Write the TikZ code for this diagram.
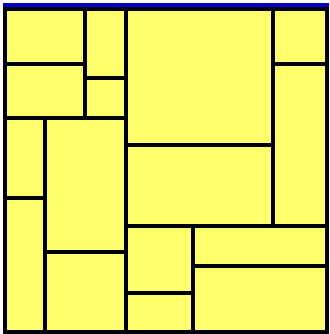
\documentclass[tikz,border=0pt]{standalone}
\usepackage{tikz}
\definecolor{cellyellow}{RGB}{255,255,110}
\definecolor{topblue}{RGB}{0,0,200}

\begin{document}
\begin{tikzpicture}[x=1pt,y=-1pt,
    cell/.style={draw=black,fill=cellyellow,line width=3.8pt}]
  \useasboundingbox (0,0) rectangle (329,334);
  % blue band on top
  \fill[topblue] (3,3.5) rectangle (329,8);
  % cells of the tiling
  \foreach \xa/\ya/\xb/\yb in {5/9/85/64, 5/64/85/118, 85/9/126/78, 85/78/126/118,
      126/9/273/145, 126/145/273/226, 273/9/327/64, 273/64/327/226,
      5/118/45/198, 5/198/45/332, 45/118/126/252, 45/252/126/332,
      126/226/193/293, 126/293/193/332, 193/226/327/266, 193/266/327/332}
    \draw[cell] (\xa,\ya) rectangle (\xb,\yb);
\end{tikzpicture}
\end{document}
